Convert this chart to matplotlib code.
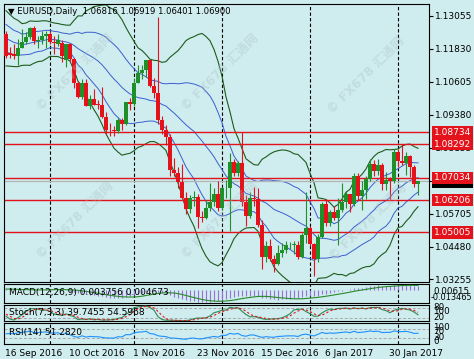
import numpy as np
import pandas as pd
import matplotlib
matplotlib.use("Agg")
import matplotlib.pyplot as plt

W, H = 474, 359
BG = '#cfecee'
RED = '#e3121b'
GREEN = '#1f8f2a'
BAND_GREEN = '#1d5c1d'
BAND_BLUE = '#3b5fd0'

# bars before the visible window (Aug 11 - Sep 15 2016), only used to warm up indicators
pre_highs = [1.1165, 1.1180, 1.1190, 1.1295, 1.1300, 1.1365, 1.1360, 1.1335, 1.1335, 1.1310,
             1.1295, 1.1340, 1.1200, 1.1195, 1.1165, 1.1215, 1.1240, 1.1180, 1.1265, 1.1265,
             1.1325, 1.1280, 1.1250, 1.1260, 1.1265, 1.1265]
pre_lows = [1.1110, 1.1120, 1.1140, 1.1175, 1.1245, 1.1285, 1.1305, 1.1275, 1.1290, 1.1255,
            1.1255, 1.1180, 1.1160, 1.1135, 1.1125, 1.1125, 1.1150, 1.1135, 1.1140, 1.1225,
            1.1235, 1.1215, 1.1205, 1.1215, 1.1210, 1.1225]
pre_closes = [1.1135, 1.1160, 1.1180, 1.1280, 1.1290, 1.1350, 1.1325, 1.1320, 1.1305, 1.1265,
              1.1285, 1.1195, 1.1190, 1.1145, 1.1160, 1.1195, 1.1155, 1.1150, 1.1255, 1.1240,
              1.1260, 1.1233, 1.1240, 1.1220, 1.1245, 1.1240]

# visible daily bars, 16 Sep 2016 - 8 Feb 2017
opens = [1.1240, 1.1168, 1.1165, 1.1155, 1.1187, 1.1208, 1.1226, 1.1262, 1.1214, 1.1216,
         1.1230, 1.1240, 1.1209, 1.1200, 1.1205, 1.1140, 1.1200, 1.1144, 1.1055, 1.1006,
         1.1058, 1.0970, 1.0998, 1.0975, 1.0974, 1.0929, 1.0882, 1.0880, 1.0877, 1.0917,
         1.0903, 1.0985, 1.0980, 1.1055, 1.1095, 1.1105, 1.1140, 1.1045, 1.1020, 1.0918,
         1.0880, 1.0856, 1.0732, 1.0722, 1.0687, 1.0628, 1.0588, 1.0630, 1.0634, 1.0557,
         1.0554, 1.0590, 1.0615, 1.0644, 1.0590, 1.0664, 1.0665, 1.0762, 1.0720, 1.0757,
         1.0615, 1.0560, 1.0630, 1.0625, 1.0530, 1.0410, 1.0450, 1.0400, 1.0385, 1.0425,
         1.0435, 1.0452, 1.0455, 1.0455, 1.0410, 1.0490, 1.0518, 1.0457, 1.0402, 1.0485,
         1.0605, 1.0535, 1.0575, 1.0555, 1.0585, 1.0615, 1.0645, 1.0605, 1.0710, 1.0635,
         1.0660, 1.0700, 1.0755, 1.0730, 1.0750, 1.0680, 1.0700, 1.0690, 1.0800, 1.0765,
         1.0760, 1.0785, 1.0745, 1.06816]
highs = [1.1250, 1.1190, 1.1200, 1.1220, 1.1257, 1.1245, 1.1265, 1.1268, 1.1230, 1.1250,
         1.1250, 1.1250, 1.1230, 1.1240, 1.1217, 1.1200, 1.1204, 1.1149, 1.1062, 1.1070,
         1.1070, 1.1010, 1.1034, 1.0994, 1.1040, 1.0950, 1.0906, 1.0895, 1.0925, 1.0925,
         1.0985, 1.1000, 1.1074, 1.1124, 1.1125, 1.1143, 1.1143, 1.1075, 1.1300, 1.0935,
         1.0900, 1.0865, 1.0777, 1.0745, 1.0755, 1.0650, 1.0638, 1.0655, 1.0645, 1.0580,
         1.0620, 1.0685, 1.0665, 1.0690, 1.0670, 1.0695, 1.0796, 1.0775, 1.0765, 1.0874,
         1.0640, 1.0650, 1.0670, 1.0667, 1.0545, 1.0470, 1.0475, 1.0415, 1.0455, 1.0460,
         1.0470, 1.0465, 1.0470, 1.0470, 1.0500, 1.0650, 1.0525, 1.0460, 1.0495, 1.0615,
         1.0625, 1.0585, 1.0600, 1.0630, 1.0685, 1.0655, 1.0645, 1.0720, 1.0720, 1.0690,
         1.0710, 1.0775, 1.0770, 1.0775, 1.0760, 1.0725, 1.0705, 1.0810, 1.0810, 1.0829,
         1.0800, 1.0790, 1.0750, 1.06919]
lows = [1.1150, 1.1150, 1.1145, 1.1125, 1.1185, 1.1200, 1.1220, 1.1200, 1.1185, 1.1200,
        1.1185, 1.1200, 1.1166, 1.1194, 1.1134, 1.1117, 1.1136, 1.1037, 1.1002, 1.0996,
        1.0970, 1.0960, 1.0975, 1.0960, 1.0925, 1.0865, 1.0860, 1.0860, 1.0870, 1.0880,
        1.0900, 1.0955, 1.0970, 1.1055, 1.1070, 1.1080, 1.1040, 1.1000, 1.0905, 1.0865,
        1.0825, 1.0710, 1.0710, 1.0664, 1.0625, 1.0568, 1.0573, 1.0600, 1.0518, 1.0540,
        1.0550, 1.0580, 1.0600, 1.0580, 1.0585, 1.0630, 1.0505, 1.0710, 1.0710, 1.0600,
        1.0525, 1.0555, 1.0600, 1.0520, 1.0366, 1.0390, 1.0395, 1.0352, 1.0380, 1.0410,
        1.0425, 1.0440, 1.0420, 1.0400, 1.0405, 1.0460, 1.0450, 1.0340, 1.0390, 1.0480,
        1.0525, 1.0525, 1.0545, 1.0455, 1.0575, 1.0590, 1.0575, 1.0600, 1.0620, 1.0585,
        1.0625, 1.0690, 1.0710, 1.0715, 1.0660, 1.0660, 1.0620, 1.0685, 1.0745, 1.0750,
        1.0715, 1.0705, 1.0670, 1.06401]
closes = [1.1155, 1.1160, 1.1155, 1.1187, 1.1208, 1.1226, 1.1262, 1.1214, 1.1216, 1.1230,
          1.1240, 1.1209, 1.1206, 1.1215, 1.1157, 1.1200, 1.1144, 1.1055, 1.1006, 1.1058,
          1.0970, 1.0998, 1.0975, 1.0974, 1.0929, 1.0882, 1.0880, 1.0877, 1.0917, 1.0903,
          1.0985, 1.0980, 1.1055, 1.1095, 1.1105, 1.1140, 1.1045, 1.1020, 1.0918, 1.0880,
          1.0856, 1.0732, 1.0722, 1.0687, 1.0628, 1.0588, 1.0630, 1.0634, 1.0557, 1.0554,
          1.0590, 1.0615, 1.0644, 1.0590, 1.0664, 1.0665, 1.0762, 1.0720, 1.0757, 1.0615,
          1.0560, 1.0630, 1.0625, 1.0530, 1.0410, 1.0450, 1.0400, 1.0385, 1.0425, 1.0435,
          1.0452, 1.0455, 1.0455, 1.0410, 1.0490, 1.0518, 1.0457, 1.0402, 1.0485, 1.0605,
          1.0535, 1.0575, 1.0555, 1.0585, 1.0615, 1.0645, 1.0605, 1.0710, 1.0635, 1.0660,
          1.0700, 1.0755, 1.0730, 1.0750, 1.0680, 1.0695, 1.0690, 1.0800, 1.0765, 1.0760,
          1.0785, 1.0745, 1.0682, 1.06900]

date_labels = ['16 Sep 2016', '10 Oct 2016', '1 Nov 2016', '23 Nov 2016',
               '15 Dec 2016', '6 Jan 2017', '30 Jan 2017']
date_label_bars = [0, 16, 32, 48, 64, 80, 96]
month_start_bars = [11, 32, 54, 76, 98]

price_ticks = [1.13055, 1.11830, 1.10605, 1.09380, 1.08155, 1.06930, 1.05705, 1.04480, 1.03255]
levels = [1.08734, 1.08292, 1.07034, 1.06206, 1.05005]
last_price = 1.06900

header = '\u25bc EURUSD,Daily  1.06816 1.06919 1.06401 1.06900'
macd_text = 'MACD(12,26,9) 0.003756 0.004673'
stoch_text = 'Stoch(7,3,3) 39.7455 54.5968'
rsi_text = 'RSI(14) 51.2820'

# ---- indicators from the full close series ----
n_pre = len(pre_closes)
c_all = pd.Series(pre_closes + closes)
h_all = pd.Series(pre_highs + highs)
l_all = pd.Series(pre_lows + lows)

mid = c_all.rolling(20).mean()
sd = c_all.rolling(20).std(ddof=0)

ema12 = c_all.ewm(span=12, adjust=False).mean()
ema26 = c_all.ewm(span=26, adjust=False).mean()
macd = ema12 - ema26
macd_sig = macd.rolling(9).mean()

ll = l_all.rolling(7).min()
hh = h_all.rolling(7).max()
stk = 100 * (c_all - ll).rolling(3).sum() / (hh - ll).rolling(3).sum()
std_ = stk.rolling(3).mean()

delta = c_all.diff()
ag = delta.clip(lower=0).ewm(alpha=1 / 14, adjust=False).mean()
al = (-delta.clip(upper=0)).ewm(alpha=1 / 14, adjust=False).mean()
rsi = 100 - 100 / (1 + ag / al)

vis = slice(n_pre, None)
o = np.array(opens); hi = np.array(highs); lo = np.array(lows); c = np.array(closes)
x = np.arange(len(c))


def fx(px):
    return px / W


def fy(py):
    return 1 - py / H


def panel(top, bottom):
    a = fig.add_axes([fx(4), fy(bottom), fx(429) - fx(4), fy(top) - fy(bottom)])
    a.set_facecolor(BG)
    a.set_xlim(-0.5, 105.75)
    a.set_xticks([])
    a.set_yticks([])
    for s in a.spines.values():
        s.set_linewidth(0.8)
        s.set_color('black')
    for b in month_start_bars:
        a.axvline(b, color='black', ls=(0, (3, 2)), lw=0.8, zorder=1)
    return a


fig = plt.figure(figsize=(W / 100, H / 100), dpi=100, facecolor=BG)

# ---- main price panel ----
ax = panel(4, 282)
ax.set_ylim(1.03162, 1.13501)

ax.plot(x, mid[vis], color=BAND_BLUE, lw=0.7)
ax.plot(x, (mid + sd)[vis], color=BAND_BLUE, lw=0.7)
ax.plot(x, (mid - sd)[vis], color=BAND_BLUE, lw=0.7)
ax.plot(x, (mid + 2 * sd)[vis], color=BAND_GREEN, lw=0.8)
ax.plot(x, (mid - 2 * sd)[vis], color=BAND_GREEN, lw=0.8)

for lvl in levels:
    ax.axhline(lvl, color=RED, lw=1.0, zorder=2)
ax.axhline(last_price, color='#b4b4b4', lw=0.9, zorder=2)

col = np.where(c >= o, GREEN, RED)
ax.vlines(x, lo, hi, colors=col, lw=0.8, zorder=3)
body = np.maximum(np.abs(c - o), 0.0003)
ax.bar(x, body, bottom=np.minimum(o, c), width=0.8, color=col, lw=0, zorder=4)

ax.yaxis.tick_right()
ax.set_yticks(price_ticks)
ax.set_yticklabels([f'{v:.5f}' for v in price_ticks])
ax.tick_params(axis='y', length=3, width=0.8, pad=1.5, labelsize=6.5, colors='black')

tx = (434 - 4) / (429 - 4)
ax.text(tx, last_price, f'{last_price:.5f}', transform=ax.get_yaxis_transform(),
        ha='left', va='center', color='white', fontsize=6.5, clip_on=False, zorder=9,
        bbox=dict(boxstyle='square,pad=0.2', fc='black', ec='none'))
for lvl in levels:
    ax.text(tx, lvl, f'{lvl:.5f}', transform=ax.get_yaxis_transform(),
            ha='left', va='center', color='white', fontsize=6.5, clip_on=False, zorder=10,
            bbox=dict(boxstyle='square,pad=0.2', fc=RED, ec='none'))

fig.text(fx(8), fy(11), header, fontsize=6.1, ha='left', va='center', color='black')

# ---- MACD ----
axm = panel(284, 303)
axm.set_ylim(-0.013465, 0.00615)
axm.vlines(x, 0, macd[vis], color='#9a70d8', lw=0.8, zorder=2)
axm.plot(x, macd_sig[vis], color='#2a8a2a', lw=0.8, zorder=3)
fig.text(fx(9), fy(292), macd_text, fontsize=6.5, ha='left', va='center')
fig.text(fx(433), fy(291), '0.00615', fontsize=6.3, ha='left', va='center')
fig.text(fx(431), fy(297), '-0.013465', fontsize=5.9, ha='left', va='center')

# ---- Stochastic ----
axs = panel(305, 321)
axs.set_ylim(0, 100)
for lv in (20, 80):
    axs.axhline(lv, color='#a8a8a8', ls=(0, (3, 2)), lw=0.7, zorder=1)
axs.plot(x, stk[vis], color='#2e8b57', lw=0.8, zorder=3)
axs.plot(x, std_[vis], color=RED, lw=0.8, ls=(0, (2, 2)), zorder=3)
fig.text(fx(9), fy(313), stoch_text, fontsize=6.5, ha='left', va='center')
for lab, py in (('80', 307), ('100', 311), ('20', 318)):
    fig.text(fx(433), fy(py), lab, fontsize=6.3, ha='left', va='center')

# ---- RSI ----
axr = panel(323, 344)
axr.set_ylim(0, 100)
for lv in (30, 70):
    axr.axhline(lv, color='#a8a8a8', ls=(0, (3, 2)), lw=0.7, zorder=1)
axr.plot(x, rsi[vis], color='#1e90ff', lw=0.8, zorder=3)
fig.text(fx(9), fy(333), rsi_text, fontsize=6.5, ha='left', va='center')
for lab, py in (('100', 327), ('70', 331), ('30', 337), ('0', 341)):
    fig.text(fx(433), fy(py), lab, fontsize=6.3, ha='left', va='center')

# ---- date axis ----
for lab, b in zip(date_labels, date_label_bars):
    fig.text(fx(5 + 4 * b), fy(353), lab, fontsize=6.5, ha='left', va='center')

# ---- watermarks ----
for cx, cy in [(75, 72), (220, 72), (366, 75), (75, 220), (220, 220), (368, 222)]:
    fig.text(fx(cx), fy(cy), '\u00a9 FX678 \u6c47\u901a\u7f51', rotation=45,
             ha='center', va='center', fontsize=9, fontweight='bold', color='#aabfc3',
             alpha=0.35, family=['DejaVu Sans', 'Noto Sans CJK SC'])

fig.savefig('out.png', dpi=100, facecolor=BG)
